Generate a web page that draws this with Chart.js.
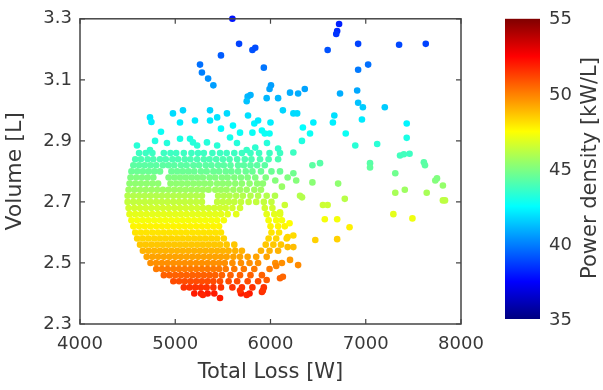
<!DOCTYPE html>
<html><head><meta charset="utf-8">
<script src="https://cdn.jsdelivr.net/npm/chart.js@4/dist/chart.umd.min.js"></script>
<style>html,body{margin:0;padding:0;background:#fff}#wrap{width:603px;height:390px;position:relative}</style>
</head><body><div id="wrap"><canvas id="c"></canvas></div>
<script>
// ---------- data ----------
const xTicks = [4000, 5000, 6000, 7000, 8000];
const yTicks = [2.3, 2.5, 2.7, 2.9, 3.1, 3.3];
const cbTicks = [35, 40, 45, 50, 55];
const cbMin = 35, cbMax = 55;
const xTitle = 'Total Loss [W]';
const yTitle = 'Volume [L]';
const cbTitle = 'Power density [kW/L]';

// dense core of the cloud, one row per volume level
const rowVol  = [2.86,2.84,2.82,2.80,2.78,2.76,2.74,2.72,2.70,2.68,2.66,2.64,2.62,2.60,2.58,2.56,2.54,2.52,2.50,2.48,2.46,2.44,2.42,2.40];
const rowDens = [43.7,44.0,44.3,44.6,45.0,45.3,45.6,46.0,46.3,46.6,47.0,47.3,47.7,48.0,48.3,48.6,49.0,49.3,49.7,50.1,50.6,51.0,51.5,52.0];
const rowLoss = [
  [4620,4690,4760,4880,4950,5010,5090,5170,5240,5300,5390,5470,5540,5620,5700,5790,5880,5990,6100],
  [4580,4640,4710,4770,4840,4900,4970,5030,5100,5160,5230,5300,5360,5430,5500,5570,5650,5730,5800,5890,5980,6080],
  [4560,4620,4680,4740,4800,4870,4930,4990,5060,5120,5190,5250,5320,5380,5450,5510,5580,5660,5720,5790,5860,5940],
  [4540,4600,4660,4720,4780,4840,4960,5020,5080,5140,5200,5270,5330,5400,5460,5530,5590,5660,5740,5810,5900,6010],
  [4530,4590,4650,4710,4770,4930,4990,5050,5110,5170,5230,5290,5360,5420,5490,5550,5620,5690,5760,5840,5950],
  [4520,4580,4640,4700,4760,4820,4950,5010,5070,5130,5190,5250,5310,5370,5440,5500,5560,5630,5700,5780,5860,5920],
  [4510,4570,4630,4690,4750,4810,4870,4930,4990,5050,5110,5170,5230,5290,5350,5420,5480,5540,5610,5680,5750,5830,5900],
  [4500,4560,4620,4680,4740,4800,4860,4920,4980,5040,5100,5160,5220,5280,5450,5510,5570,5640,5710,5790,5870,5960],
  [4500,4560,4620,4680,4740,4800,4860,4920,4980,5040,5100,5160,5220,5280,5440,5500,5560,5620,5690,5770,5850,5930,6010],
  [4510,4570,4630,4690,4750,4810,4870,4930,4990,5050,5110,5170,5230,5290,5350,5410,5470,5530,5600,5680,5940,6020],
  [4520,4580,4640,4700,4760,4820,4880,4940,5000,5060,5120,5180,5240,5300,5360,5420,5480,5550,5640,5960,6040,6100],
  [4540,4600,4660,4720,4780,4840,4900,4960,5020,5080,5140,5200,5260,5320,5380,5440,5510,5980,6060,6120],
  [4560,4620,4680,4740,4800,4860,4920,4980,5040,5100,5160,5220,5280,5340,5400,5460,6000,6080,6150],
  [4580,4640,4700,4760,4820,4880,4940,5000,5060,5120,5180,5240,5300,5360,5420,5480,6010,6090],
  [4600,4660,4720,4780,4840,4900,4960,5020,5080,5140,5200,5260,5320,5380,5440,5510,5980,6060,6170],
  [4630,4690,4750,4810,4870,4930,4990,5050,5110,5170,5230,5290,5350,5410,5470,5540,5620,5950,6030,6110],
  [4660,4720,4780,4840,4900,4960,5020,5080,5140,5200,5260,5320,5380,5440,5500,5560,5630,5700,5900,5990,6080],
  [4700,4760,4820,4880,4940,5000,5060,5120,5180,5240,5300,5360,5420,5480,5540,5610,5680,5760,5850,5960],
  [4740,4800,4860,4920,4980,5040,5100,5160,5220,5280,5340,5400,5460,5520,5600,5690,5780,5870,6050],
  [4800,4860,4920,4980,5040,5100,5160,5220,5280,5340,5400,5460,5530,5620,5720,5830,5990],
  [4880,4940,5000,5060,5120,5180,5240,5300,5360,5420,5490,5580,5680,5790,5910],
  [4980,5040,5100,5160,5220,5280,5340,5400,5470,5560,5650,5760,5870],
  [5090,5150,5210,5270,5330,5400,5480,5600,5700,5810,5930],
  [5200,5270,5340,5410,5690,5780]
];

// scattered designs in the upper part (blue / cyan)
const upperLoss = [5600,5670,5810,5840,5480,5930,5260,5280,5345,5400,6005,5990,5760,5790,5750,5960,6080,6205,6290,6130,
  6240,6720,6700,6690,6920,6600,7350,7630,6920,7025,6360,6730,6910,6920,6970,7200,6670,6655,6960,6450,
  6340,6415,6330,6790,6890,7120,7430,7430,6280,4735,4750,4976,5081,5050,5207,5365,5365,5440,5543,5606,
  5764,5830,5870,5910,5940,5990,4598,4735,4788,4913,5050,5155,5230,5333,5440,5575,5648,5750,5840,5680,
  5810,5963,6080,6000,5186,4850,5480];
const upperVol = [3.300,3.218,3.198,3.205,3.180,3.140,3.150,3.124,3.104,3.082,3.082,3.070,3.045,3.050,3.030,3.040,3.040,3.058,3.055,3.000,
  2.990,3.283,3.260,3.250,3.218,3.198,3.215,3.218,3.133,3.150,3.070,3.055,3.065,3.025,3.010,3.010,2.983,2.960,2.970,2.960,
  2.944,2.924,2.900,2.924,2.885,2.890,2.957,2.910,2.990,2.977,2.962,2.990,3.000,2.960,2.967,3.000,2.967,2.977,2.990,2.950,
  2.983,2.957,2.967,2.934,2.924,2.924,2.885,2.870,2.900,2.893,2.907,2.907,2.885,2.895,2.885,2.911,2.893,2.870,2.878,2.927,
  2.927,2.893,2.875,2.960,2.895,2.930,2.940];
const upperDens = [37.9,38.8,39.1,39.0,39.3,39.8,39.7,40.0,40.3,40.6,40.6,40.7,41.1,41.0,41.3,41.1,41.1,40.9,40.9,41.7,
  41.8,38.1,38.3,38.5,38.8,39.1,38.9,38.8,39.9,39.7,40.7,40.9,40.8,41.3,41.5,41.5,41.9,42.2,42.1,42.2,
  42.5,42.7,43.1,42.7,43.3,43.3,42.3,43.0,41.8,42.0,42.2,41.8,41.7,42.2,42.1,41.7,42.1,42.0,41.8,42.4,
  41.9,42.3,42.1,42.6,42.7,42.7,43.3,43.6,43.1,43.2,43.0,43.0,43.3,43.2,43.3,42.9,43.2,43.6,43.4,42.7,
  42.7,43.2,43.5,42.2,43.2,42.7,42.5];

// scattered designs at the right / bottom of the cloud (green / yellow / red)
const lowerLoss = [6240,7360,7400,7460,7610,7045,6520,6440,7310,6240,6270,6710,7730,7810,6440,7410,6310,7310,7640,7810,
  6550,6600,6780,7290,7490,6570,6700,6830,6470,6700,6200,6180,6240,6180,6240,6205,6290,6100,6130,5960,
  5910,5470,5290,5750,5920,5680,6331,7045,7622,7748,7832,6150,6100,6047,6100,6180,6050,6120,6060,6120];
const lowerVol = [2.862,2.852,2.856,2.858,2.830,2.827,2.827,2.820,2.794,2.794,2.770,2.760,2.770,2.754,2.764,2.740,2.720,2.730,2.730,2.705,
  2.690,2.690,2.710,2.660,2.646,2.643,2.643,2.617,2.575,2.578,2.630,2.585,2.590,2.552,2.552,2.510,2.493,2.450,2.455,2.444,
  2.405,2.385,2.395,2.395,2.410,2.410,2.715,2.813,2.820,2.777,2.705,2.690,2.666,2.720,2.800,2.780,2.770,2.750,2.490,2.500];
const lowerDens = [43.7,43.8,43.8,43.7,44.2,44.2,44.2,44.3,44.7,44.7,45.1,45.3,45.1,45.4,45.2,45.6,46.0,45.8,45.8,46.2,
  46.5,46.5,46.1,47.0,47.2,47.3,47.3,47.8,48.4,48.4,47.5,48.3,48.2,48.8,48.8,49.5,49.8,50.6,50.5,50.7,
  51.6,52.0,51.8,51.8,51.5,51.5,46.0,44.4,44.3,45.0,46.2,46.5,46.9,46.0,44.6,45.0,45.1,45.5,49.9,49.7];

// ---------- colormap (MATLAB jet) ----------
function jet(t) {
  t = Math.max(0, Math.min(1, t));
  const c = v => Math.round(255 * Math.max(0, Math.min(1, v)));
  return `rgb(${c(1.5 - Math.abs(4*t - 3))},${c(1.5 - Math.abs(4*t - 2))},${c(1.5 - Math.abs(4*t - 1))})`;
}
const colorOf = d => jet((d - cbMin) / (cbMax - cbMin));

// ---------- build dataset ----------
const pts = [], cols = [];
rowLoss.forEach((row, i) => row.forEach(x => { pts.push({x, y: rowVol[i]}); cols.push(colorOf(rowDens[i])); }));
upperLoss.forEach((x, i) => { pts.push({x, y: upperVol[i]}); cols.push(colorOf(upperDens[i])); });
lowerLoss.forEach((x, i) => { pts.push({x, y: lowerVol[i]}); cols.push(colorOf(lowerDens[i])); });

const textColor = '#383838';
const axisColor = '#454545';
const FONT = "'DejaVu Sans', 'Liberation Sans', sans-serif";
Chart.defaults.font.family = FONT;
Chart.defaults.color = textColor;

const frame = {
  id: 'frame',
  afterDraw(chart) {
    const {ctx, chartArea: a, scales: {x, y}} = chart;
    ctx.save();
    ctx.strokeStyle = axisColor;
    ctx.lineWidth = 1.5;
    ctx.strokeRect(a.left, a.top, a.right - a.left, a.bottom - a.top);
    ctx.lineWidth = 1.2;
    ctx.beginPath();
    xTicks.forEach(v => {
      const px = x.getPixelForValue(v);
      ctx.moveTo(px, a.bottom); ctx.lineTo(px, a.bottom - 5);
      ctx.moveTo(px, a.top); ctx.lineTo(px, a.top + 5);
    });
    yTicks.forEach(v => {
      const py = y.getPixelForValue(v);
      ctx.moveTo(a.left, py); ctx.lineTo(a.left + 5, py);
      ctx.moveTo(a.right, py); ctx.lineTo(a.right - 5, py);
    });
    ctx.stroke();

    // colorbar
    const cbL = 505, cbR = 540, cbT = a.top, cbB = a.bottom - 5;
    const g = ctx.createLinearGradient(0, cbB, 0, cbT);
    for (let i = 0; i <= 64; i++) g.addColorStop(i / 64, jet(i / 64));
    ctx.fillStyle = g;
    ctx.fillRect(cbL, cbT, cbR - cbL, cbB - cbT);
    ctx.fillStyle = textColor;
    ctx.font = `18px ${FONT}`;
    ctx.textAlign = 'left';
    ctx.textBaseline = 'middle';
    cbTicks.forEach(v => {
      const py = cbB - (v - cbMin) / (cbMax - cbMin) * (cbB - cbT);
      ctx.fillText(String(v), cbR + 9, py + 1);
    });
    ctx.save();
    ctx.translate(591, 168);
    ctx.rotate(-Math.PI / 2);
    ctx.textAlign = 'center';
    ctx.font = `21px ${FONT}`;
    ctx.fillText(cbTitle, 0, 0);
    ctx.restore();
    ctx.restore();
  }
};

new Chart(document.getElementById('c'), {
  type: 'scatter',
  data: { datasets: [{
    data: pts,
    pointBackgroundColor: cols,
    pointBorderWidth: 0,
    pointRadius: 3.3,
    clip: false
  }]},
  options: {
    responsive: true,
    maintainAspectRatio: false,
    animation: false,
    events: [],
    layout: { padding: { top: 18, right: 142, bottom: 0, left: 0 } },
    plugins: { legend: { display: false }, tooltip: { enabled: false } },
    scales: {
      x: {
        type: 'linear', min: 4000, max: 8000,
        afterBuildTicks: s => { s.ticks = xTicks.map(v => ({value: v})); },
        afterFit: s => { s.height = 66; },
        grid: { display: false, drawTicks: false },
        border: { display: false },
        ticks: { font: { size: 18 }, padding: 10, maxRotation: 0, callback: v => String(v) },
        title: { display: true, text: xTitle, font: { size: 21 }, padding: { top: 0, bottom: 5 } }
      },
      y: {
        type: 'linear', min: 2.3, max: 3.3,
        afterBuildTicks: s => { s.ticks = yTicks.map(v => ({value: v})); },
        afterFit: s => { s.width = 80; },
        grid: { display: false, drawTicks: false },
        border: { display: false },
        ticks: { font: { size: 18 }, padding: 8, callback: v => Number(v).toFixed(1) },
        title: { display: true, text: yTitle, font: { size: 22 }, padding: { top: 2, bottom: 0 } }
      }
    }
  },
  plugins: [frame]
});
</script></body></html>
